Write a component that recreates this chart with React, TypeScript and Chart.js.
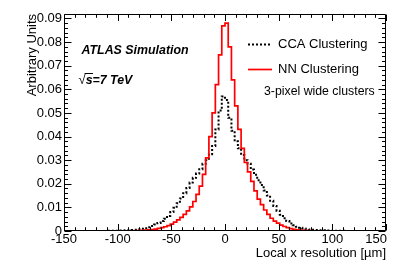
import React, { useEffect, useRef } from "react";
import { Chart, registerables } from "chart.js";

Chart.register(...registerables);

// Histogram bin edges (µm), 3 µm bins from -150 to 150
const binEdges = [
  -150, -147, -144, -141, -138, -135, -132, -129, -126, -123,
  -120, -117, -114, -111, -108, -105, -102, -99, -96, -93,
  -90, -87, -84, -81, -78, -75, -72, -69, -66, -63,
  -60, -57, -54, -51, -48, -45, -42, -39, -36, -33,
  -30, -27, -24, -21, -18, -15, -12, -9, -6, -3,
  0, 3, 6, 9, 12, 15, 18, 21, 24, 27,
  30, 33, 36, 39, 42, 45, 48, 51, 54, 57,
  60, 63, 66, 69, 72, 75, 78, 81, 84, 87,
  90, 93, 96, 99, 102, 105, 108, 111, 114, 117,
  120, 123, 126, 129, 132, 135, 138, 141, 144, 147,
  150,
];

// CCA Clustering (black dotted)
const ccaValues = [
  0.00002, 0.00002, 0.00002, 0.00002, 0.00002, 0.00002, 0.00003, 0.00003, 0.00003, 0.00003,
  0.00005, 0.00005, 0.00005, 0.0001, 0.0001, 0.0001, 0.0001, 0.0002, 0.0002, 0.0003,
  0.0003, 0.0004, 0.0005, 0.0007, 0.0009, 0.0012, 0.0016, 0.0021, 0.0027, 0.0034,
  0.0042, 0.0052, 0.0064, 0.008, 0.0098, 0.0118, 0.0138, 0.016, 0.0182, 0.0205,
  0.0225, 0.0243, 0.0262, 0.0285, 0.03, 0.0325, 0.036, 0.043, 0.051, 0.057,
  0.0555, 0.048, 0.0425, 0.038, 0.035, 0.0322, 0.03, 0.0285, 0.026, 0.0238,
  0.0215, 0.0195, 0.0172, 0.015, 0.0128, 0.0106, 0.0086, 0.0069, 0.0054, 0.0042,
  0.0032, 0.0024, 0.0018, 0.0014, 0.0011, 0.0008, 0.0006, 0.0005, 0.0004, 0.0003,
  0.0003, 0.0002, 0.0002, 0.0001, 0.0001, 0.0001, 0.0001, 0.00005, 0.00005, 0.00005,
  0.00003, 0.00003, 0.00003, 0.00003, 0.00002, 0.00002, 0.00002, 0.00002, 0.00002, 0.00002,
];

// NN Clustering (red solid)
const nnValues = [
  0.00001, 0.00001, 0.00001, 0.00001, 0.00001, 0.00001, 0.00001, 0.00001, 0.00001, 0.00001,
  0.00003, 0.00003, 0.00003, 0.00003, 0.00003, 0.00003, 0.00005, 0.00005, 0.0001, 0.0001,
  0.0001, 0.0001, 0.0002, 0.0002, 0.0003, 0.0004, 0.0005, 0.0006, 0.0008, 0.0011,
  0.0014, 0.0018, 0.0023, 0.0029, 0.0038, 0.0047, 0.0058, 0.007, 0.0085, 0.0102,
  0.0125, 0.0155, 0.019, 0.024, 0.031, 0.04, 0.05, 0.062, 0.0746, 0.0869,
  0.088, 0.078, 0.064, 0.053, 0.043, 0.035, 0.029, 0.025, 0.021, 0.017,
  0.0135, 0.0112, 0.0089, 0.007, 0.0054, 0.0042, 0.0033, 0.0025, 0.0019, 0.0014,
  0.001, 0.0007, 0.0005, 0.0004, 0.0003, 0.0002, 0.0002, 0.0001, 0.0001, 0.0001,
  0.0001, 0.00005, 0.00005, 0.00005, 0.00005, 0.00003, 0.00003, 0.00003, 0.00003, 0.00003,
  0.00001, 0.00001, 0.00001, 0.00001, 0.00001, 0.00001, 0.00001, 0.00001, 0.00001, 0.00001,
];

const seriesLabels = ["CCA Clustering", "NN Clustering"];
const xTickValues = [-150, -100, -50, 0, 50, 100, 150];
const xRange = [-150, 150];
const yRange = [0, 0.0919];
const xMajorStep = 50;
const xMinorStep = 10;
const yMajorStep = 0.01;
const yMinorStep = 0.002;
const xTitle = "Local x resolution [µm]";
const yTitle = "Arbitrary Units";
const atlasLabel = "ATLAS Simulation";
const energyLabel = "s=7 TeV";
const noteLabel = "3-pixel wide clusters";

const FONT = "'Liberation Sans', Arial, Helvetica, sans-serif";

function histPoints(values: number[]) {
  const pts = values.map((v, i) => ({ x: binEdges[i], y: v }));
  pts.push({ x: binEdges[binEdges.length - 1], y: values[values.length - 1] });
  return pts;
}

const rootFramePlugin = {
  id: "rootFrame",
  afterDraw(chart: any) {
    const { ctx, chartArea: a, scales } = chart;
    const xs = scales.x;
    const ys = scales.y;
    ctx.save();
    ctx.strokeStyle = "#000";
    ctx.lineWidth = 1;
    const L = Math.round(a.left) + 0.5;
    const R = Math.round(a.right) - 0.5;
    const T = Math.round(a.top) + 0.5;
    const B = Math.round(a.bottom) - 0.5;
    ctx.beginPath();
    ctx.rect(L, T, R - L, B - T);
    ctx.stroke();

    // x ticks (inside, bottom & top)
    ctx.beginPath();
    const nx = Math.round((xRange[1] - xRange[0]) / xMinorStep);
    for (let k = 0; k <= nx; k++) {
      const v = xRange[0] + k * xMinorStep;
      const major = Math.abs(v % xMajorStep) < 1e-9;
      const len = major ? 6.5 : 3.3;
      const px = Math.round(xs.getPixelForValue(v)) + 0.5;
      ctx.moveTo(px, B);
      ctx.lineTo(px, B - len);
      ctx.moveTo(px, T);
      ctx.lineTo(px, T + len);
    }
    // y ticks (inside, left & right)
    const ny = Math.floor(yRange[1] / yMinorStep + 1e-6);
    for (let k = 0; k <= ny; k++) {
      const v = k * yMinorStep;
      const major = k % Math.round(yMajorStep / yMinorStep) === 0;
      const len = major ? 7 : 3.5;
      const py = Math.round(ys.getPixelForValue(v)) + 0.5;
      ctx.moveTo(L, py);
      ctx.lineTo(L + len, py);
      ctx.moveTo(R, py);
      ctx.lineTo(R - len, py);
    }
    ctx.stroke();

    // x tick labels (last one kept inside the frame, as ROOT does)
    ctx.fillStyle = "#000";
    ctx.font = `13px ${FONT}`;
    ctx.textBaseline = "middle";
    xTickValues.forEach((v, i) => {
      const px = xs.getPixelForValue(v);
      if (i === xTickValues.length - 1) {
        ctx.textAlign = "right";
        ctx.fillText(String(v), px + 1, 239.5);
      } else {
        ctx.textAlign = "center";
        ctx.fillText(String(v), px, 239.5);
      }
    });

    // axis titles
    ctx.textAlign = "right";
    ctx.fillText(xTitle, a.right, 253);
    ctx.save();
    ctx.translate(32, a.top);
    ctx.rotate(-Math.PI / 2);
    ctx.textAlign = "right";
    ctx.fillText(yTitle, 0, 0);
    ctx.restore();

    // ATLAS labels
    ctx.textAlign = "left";
    ctx.font = `italic bold 12.4px ${FONT}`;
    ctx.fillText(atlasLabel, 81.5, 51);
    ctx.font = `13px ${FONT}`;
    ctx.fillText("√", 78.5, 80);
    const sqrtW = ctx.measureText("√").width;
    ctx.font = `italic bold 12.4px ${FONT}`;
    const sx = 78.5 + sqrtW;
    ctx.fillText(energyLabel, sx, 80.5);
    const sW = ctx.measureText("s").width;
    ctx.beginPath();
    ctx.lineWidth = 1;
    ctx.moveTo(sx - 1, 73.5);
    ctx.lineTo(sx + sW + 0.5, 73.5);
    ctx.stroke();

    // legend
    ctx.lineWidth = 2;
    ctx.strokeStyle = "#000";
    ctx.setLineDash([2, 2]);
    ctx.beginPath();
    ctx.moveTo(248, 44.5);
    ctx.lineTo(272, 44.5);
    ctx.stroke();
    ctx.setLineDash([]);
    ctx.strokeStyle = "#ff0000";
    ctx.lineWidth = 1.7;
    ctx.beginPath();
    ctx.moveTo(248, 69.5);
    ctx.lineTo(272, 69.5);
    ctx.stroke();
    ctx.fillStyle = "#000";
    ctx.font = `13px ${FONT}`;
    ctx.fillText(seriesLabels[0], 278, 44.5);
    ctx.fillText(seriesLabels[1], 278, 69.5);
    ctx.font = `12.3px ${FONT}`;
    ctx.fillText(noteLabel, 264, 92);
    ctx.restore();
  },
};

export default function App() {
  const canvasRef = useRef<HTMLCanvasElement | null>(null);

  useEffect(() => {
    document.body.style.margin = "0";
    const canvas = canvasRef.current;
    if (!canvas) return;
    const chart = new Chart(canvas, {
      type: "line",
      data: {
        datasets: [
          {
            label: seriesLabels[0],
            data: histPoints(ccaValues),
            borderColor: "#000000",
            borderWidth: 2,
            borderDash: [2, 2],
            stepped: true,
            pointRadius: 0,
            fill: false,
            order: 2,
            borderCapStyle: "butt",
            borderJoinStyle: "miter",
          },
          {
            label: seriesLabels[1],
            data: histPoints(nnValues),
            borderColor: "#ff0000",
            borderWidth: 1.7,
            stepped: true,
            pointRadius: 0,
            fill: false,
            order: 1,
            borderJoinStyle: "miter",
          },
        ],
      },
      options: {
        responsive: false,
        animation: false,
        devicePixelRatio: 1,
        events: [],
        layout: { padding: { left: 0, right: 21, top: 14, bottom: 0 } },
        plugins: {
          legend: { display: false },
          tooltip: { enabled: false },
        },
        scales: {
          x: {
            type: "linear",
            min: xRange[0],
            max: xRange[1],
            border: { display: false },
            grid: { display: false, drawTicks: false },
            ticks: {
              display: false,
              stepSize: xMajorStep,
              autoSkip: false,
              maxRotation: 0,
              includeBounds: false,
            },
            afterFit: (s: any) => {
              s.height = 45;
            },
          },
          y: {
            type: "linear",
            min: yRange[0],
            max: yRange[1],
            border: { display: false },
            grid: { display: false, drawTicks: false },
            ticks: {
              stepSize: yMajorStep,
              autoSkip: false,
              includeBounds: false,
              padding: 2,
              color: "#000",
              font: { family: FONT, size: 13 },
              callback: (v: any) => (Number(v) === 0 ? "0" : Number(v).toFixed(2)),
            },
            afterFit: (s: any) => {
              s.width = 64;
            },
          },
        },
      },
      plugins: [rootFramePlugin],
    });
    return () => chart.destroy();
  }, []);

  return (
    <div style={{ width: 407, height: 276, background: "#fff" }}>
      <canvas ref={canvasRef} width={407} height={276} style={{ display: "block" }} />
    </div>
  );
}
